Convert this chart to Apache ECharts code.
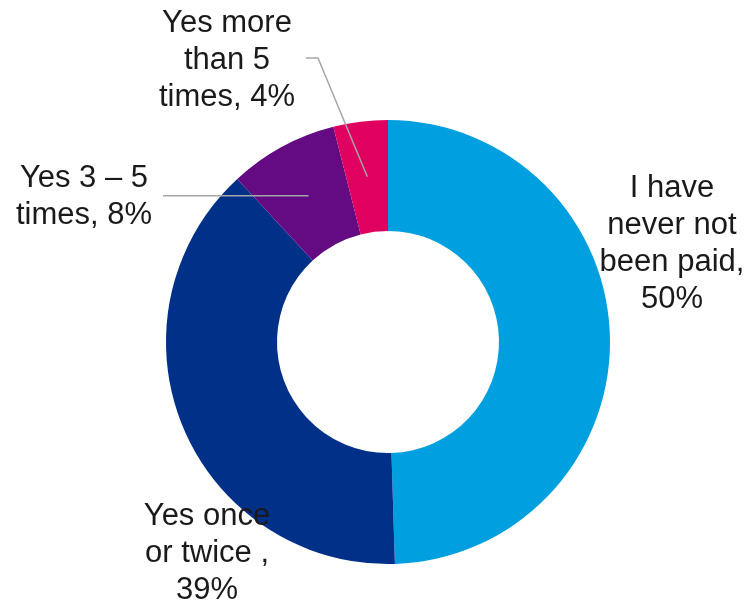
<!DOCTYPE html>
<html>
<head>
<meta charset="utf-8">
<script src="https://cdn.jsdelivr.net/npm/echarts@6/dist/echarts.min.js"></script>
<style>html,body{margin:0;padding:0;background:#fff}#c{width:751px;height:604px}</style>
</head>
<body>
<div id="c"></div>
<script>
const categories = ["I have\nnever not\nbeen paid", "Yes once\nor twice", "Yes 3 – 5\ntimes", "Yes more\nthan 5\ntimes"];
const values = [50, 39, 8, 4];
const separators = [",\n", " ,\n", ", ", ", "];
const colors = ["#009FDF", "#003087", "#640A82", "#E0005F"];

const CX = 388, CY = 342, R0 = 111, R1 = 222;
// label anchor positions (center of each text block)
const labelPos = [[672, 244], [207, 553], [84, 197], [227, 60]];

const total = values.reduce((a, b) => a + b, 0);
function midPoint(i) {
  let before = 0;
  for (let k = 0; k < i; k++) before += values[k];
  const frac = (before + values[i] / 2) / total;
  const ang = frac * 2 * Math.PI; // clockwise from top
  const r = (R0 + R1) / 2;
  return [CX + r * Math.sin(ang), CY - r * Math.cos(ang)];
}

const mPink = midPoint(3), mPurple = midPoint(2);
const leaderStyle = {stroke: '#A6A6A6', lineWidth: 1.5, fill: null};

const chart = echarts.init(document.getElementById('c'), null, {renderer: 'canvas'});
chart.setOption({
  animation: false,
  backgroundColor: '#fff',
  graphic: [
    {type: 'polyline', z: 100, shape: {points: [[306, 58], [318, 58], mPink]}, style: leaderStyle, silent: true},
    {type: 'polyline', z: 100, shape: {points: [[163, mPurple[1]], mPurple]}, style: leaderStyle, silent: true}
  ],
  series: [{
    type: 'pie',
    center: [CX, CY],
    radius: [R0, R1],
    startAngle: 90,
    clockwise: true,
    color: colors,
    itemStyle: {borderWidth: 0},
    label: {
      show: true,
      position: 'outside',
      fontFamily: 'Liberation Sans, Arial, sans-serif',
      fontSize: 31,
      lineHeight: 37,
      color: '#1a1a1a',
      align: 'center',
      overflow: 'none',
      formatter: p => p.name + separators[p.dataIndex] + p.value + '%'
    },
    labelLine: {show: false},
    data: categories.map((n, i) => ({name: n, value: values[i]})),
    labelLayout: function (params) {
      const i = params.dataIndex;
      return {x: labelPos[i][0], y: labelPos[i][1], align: 'center', verticalAlign: 'middle', width: 200};
    }
  }]
});
</script>
</body>
</html>
